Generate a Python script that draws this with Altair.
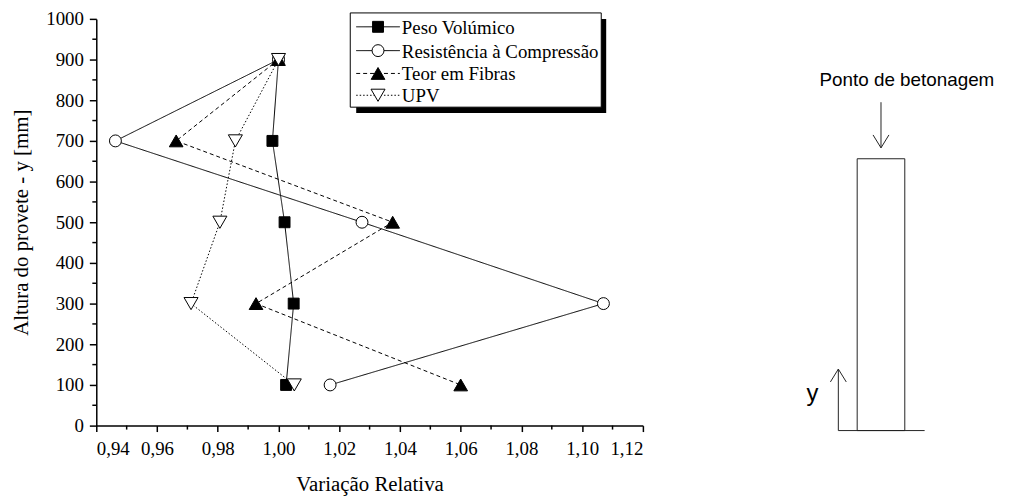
import altair as alt
import pandas as pd

# ---- data ----
heights = [900, 700, 500, 300, 100]
peso = [1.000, 0.998, 1.002, 1.005, 1.0025]
resist = [1.000, 0.9463, 1.0275, 1.107, 1.017]
teor = [1.000, 0.9663, 1.0376, 0.9926, 1.060]
upv = [1.000, 0.9858, 0.9807, 0.9712, 1.0052]
series_names = ["Peso Volúmico", "Resistência à Compressão", "Teor em Fibras", "UPV"]

x_ticks = [0.94, 0.96, 0.98, 1.00, 1.02, 1.04, 1.06, 1.08, 1.10, 1.12]
x_minor = [0.95, 0.97, 0.99, 1.01, 1.03, 1.05, 1.07, 1.09, 1.11]
y_ticks = [0, 100, 200, 300, 400, 500, 600, 700, 800, 900, 1000]
y_minor = [50, 150, 250, 350, 450, 550, 650, 750, 850, 950]

diagram_label = "Ponto de betonagem"
diagram_axis_label = "y"

# ---- styles ----
W, H = 551, 410
SERIF = "Liberation Serif"
SANS = "Liberation Sans"

styles = [
    dict(shape="square", fill="black", size=121, dash=[1, 0]),
    dict(shape="circle", fill="white", size=144, dash=[1, 0]),
    dict(shape="triangle-up", fill="black", size=190, dash=[4, 3]),
    dict(shape="triangle-down", fill="white", size=200, dash=[1.5, 2]),
]

xaxis = alt.Axis(
    values=x_ticks, labelExpr="replace(format(datum.value, '.2f'), '.', ',')",
    grid=False, domainColor="black", domainWidth=1.5, tickColor="black", tickWidth=1.5,
    tickSize=6, labelFont=SERIF, labelFontSize=19, labelColor="black", labelPadding=8,
    title="Variação Relativa", titleFont=SERIF, titleFontSize=21, titleFontWeight="normal",
    titleColor="black", titleX=W / 2, titleY=65, titleBaseline="alphabetic", titleAlign="center",
)
yaxis = alt.Axis(
    values=y_ticks, format="d",
    grid=False, domainColor="black", domainWidth=1.5, tickColor="black", tickWidth=1.5,
    tickSize=7, labelFont=SERIF, labelFontSize=19, labelColor="black", labelPadding=6,
    title="Altura do provete - y [mm]", titleFont=SERIF, titleFontSize=21,
    titleFontWeight="normal", titleColor="black", titleX=-75, titleY=H / 2,
    titleAngle=-90, titleBaseline="middle", titleAlign="center",
)
X = alt.X("x:Q", scale=alt.Scale(domain=[0.94, 1.12], nice=False, zero=False), axis=xaxis)
Y = alt.Y("y:Q", scale=alt.Scale(domain=[0, 1000], nice=False, zero=False), axis=yaxis)

layers = []
all_series = [peso, resist, teor, upv]

# lines
for name, vals, st in zip(series_names, all_series, styles):
    df = pd.DataFrame({"x": vals, "y": heights, "s": name})
    layers.append(
        alt.Chart(df).mark_line(color="black", strokeWidth=1, strokeDash=st["dash"]).encode(
            x=X, y=Y, order=alt.Order("y:Q", sort="descending")
        )
    )
# points
for name, vals, st in zip(series_names, all_series, styles):
    df = pd.DataFrame({"x": vals, "y": heights, "s": name})
    layers.append(
        alt.Chart(df).mark_point(
            shape=st["shape"], filled=True, fill=st["fill"], stroke="black",
            strokeWidth=1, size=st["size"], opacity=1
        ).encode(x=X, y=Y)
    )

# minor ticks
layers.append(
    alt.Chart(pd.DataFrame({"x": x_minor})).mark_rule(color="black", strokeWidth=1.5).encode(
        x=X, y=alt.value(H), y2=alt.value(H + 4)
    )
)
layers.append(
    alt.Chart(pd.DataFrame({"y": y_minor})).mark_rule(color="black", strokeWidth=1.5).encode(
        y=Y, x=alt.value(0), x2=alt.value(-4)
    )
)

one = alt.Data(values=[{"a": 1}])

# legend box with shadow
bx0, bx1, by0, by1 = 256, 509, -6, 89
layers.append(alt.Chart(one).mark_rect(color="black").encode(
    x=alt.value(bx0 + 6), x2=alt.value(bx1 + 5), y=alt.value(by0 + 6), y2=alt.value(by1 + 6)))
layers.append(alt.Chart(one).mark_rect(fill="white", stroke="black", strokeWidth=1).encode(
    x=alt.value(bx0), x2=alt.value(bx1), y=alt.value(by0), y2=alt.value(by1)))
rows = [8, 32, 55, 77]
for name, st, ry in zip(series_names, styles, rows):
    layers.append(alt.Chart(one).mark_rule(color="black", strokeWidth=1, strokeDash=st["dash"]).encode(
        x=alt.value(262), x2=alt.value(306), y=alt.value(ry)))
    layers.append(alt.Chart(one).mark_point(
        shape=st["shape"], filled=True, fill=st["fill"], stroke="black", strokeWidth=1,
        size=st["size"], opacity=1).encode(x=alt.value(284), y=alt.value(ry)))
    layers.append(alt.Chart(one).mark_text(
        text=name, font=SERIF, fontSize=19, align="left", baseline="middle", color="black"
    ).encode(x=alt.value(308), y=alt.value(ry + 1)))

# ---- diagram at the right ----
dcol = "#222222"
def seg(x1, y1, x2, y2):
    return alt.Chart(one).mark_rule(color=dcol, strokeWidth=1).encode(
        x=alt.value(x1), y=alt.value(y1), x2=alt.value(x2), y2=alt.value(y2))

layers.append(alt.Chart(one).mark_text(
    text=diagram_label, font=SANS, fontSize=19, align="left", baseline="alphabetic", color="black"
).encode(x=alt.value(729), y=alt.value(68)))
# down arrow
layers += [seg(791, 84, 791, 130), seg(783, 117, 791, 130), seg(799, 117, 791, 130)]
# column
layers.append(alt.Chart(one).mark_rect(fill="white", stroke=dcol, strokeWidth=1).encode(
    x=alt.value(767), x2=alt.value(815), y=alt.value(141), y2=alt.value(415)))
# baseline
layers.append(seg(748, 415, 835, 415))
# y arrow
layers += [seg(748, 415, 748, 353), seg(740, 366, 748, 353), seg(756, 366, 748, 353)]
layers.append(alt.Chart(one).mark_text(
    text=diagram_axis_label, font=SANS, fontSize=24, align="center", baseline="alphabetic", color="black"
).encode(x=alt.value(722), y=alt.value(385)))

chart = alt.layer(*layers).properties(
    width=W, height=H,
    autosize=alt.AutoSizeParams(type="none"),
    padding={"left": 89, "top": 9, "right": 364, "bottom": 71},
    background="white",
).configure_view(stroke=None)

chart.save("out.html", embed_options={"renderer": "svg", "actions": False})
